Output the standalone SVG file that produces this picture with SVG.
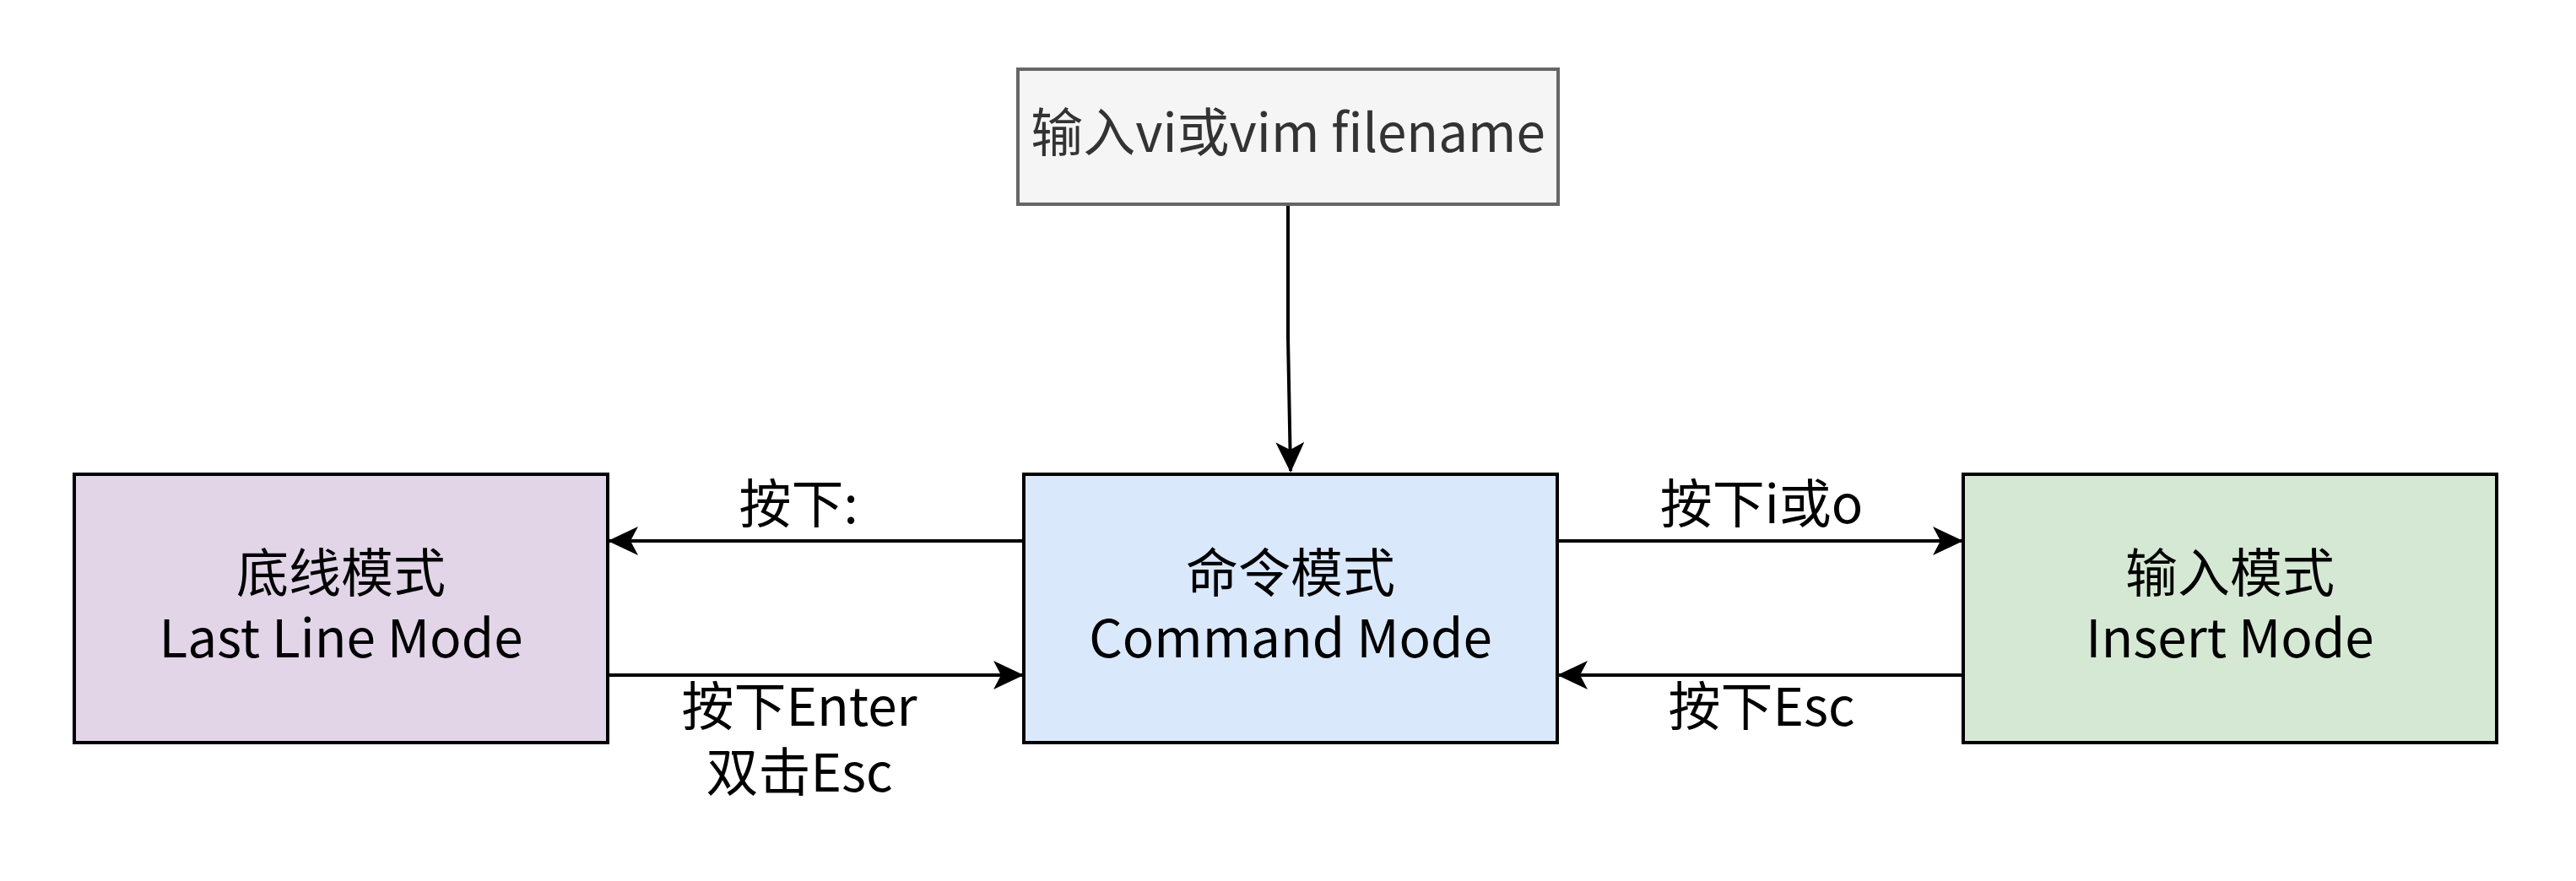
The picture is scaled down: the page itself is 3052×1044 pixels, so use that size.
<svg xmlns="http://www.w3.org/2000/svg" width="3052" height="1044" viewBox="0 0 3052 1044">
<style>
text{font-family:"Noto Sans CJK SC","Noto Sans",sans-serif;font-size:62px;text-anchor:middle;fill:#000}
.box{stroke:#000;stroke-width:4}
.edge{fill:none;stroke:#000;stroke-width:4}
</style>
<defs>
<marker id="arr" markerUnits="userSpaceOnUse" viewBox="0 0 36 34" markerWidth="36" markerHeight="34" refX="34" refY="17" orient="auto">
<path d="M0,0 L36,17 L0,34 L9,17 Z" fill="#000"/>
</marker>
</defs>
<rect width="3052" height="1044" fill="#fff"/>
<g id="connectors">
<path class="edge" d="M1526,242 L1526,400 L1529,558" marker-end="url(#arr)"/>
<path class="edge" d="M1213,641 L722,641" marker-end="url(#arr)"/>
<path class="edge" d="M720,800 L1211,800" marker-end="url(#arr)"/>
<path class="edge" d="M1845,641 L2324,641" marker-end="url(#arr)"/>
<path class="edge" d="M2326,800 L1847,800" marker-end="url(#arr)"/>
<text x="946" y="620">按下:</text>
<text x="947" y="860">按下Enter</text>
<text x="947" y="938">双击Esc</text>
<text x="2087" y="620">按下i或o</text>
<text x="2087" y="860">按下Esc</text>
</g>
<g id="start">
<rect x="1206" y="82" width="640" height="160" fill="#f5f5f5" stroke="#666666" stroke-width="4"/>
<text x="1526" y="180" style="fill:#333333">输入vi或vim filename</text>
</g>
<g id="lastline">
<rect class="box" x="88" y="562" width="632" height="318" fill="#e1d5e7"/>
<text x="404" y="702">底线模式</text>
<text x="404" y="779">Last Line Mode</text>
</g>
<g id="command">
<rect class="box" x="1213" y="562" width="632" height="318" fill="#dae8fc"/>
<text x="1529" y="702">命令模式</text>
<text x="1529" y="779">Command Mode</text>
</g>
<g id="insert">
<rect class="box" x="2326" y="562" width="632" height="318" fill="#d5e8d4"/>
<text x="2642" y="702">输入模式</text>
<text x="2642" y="779">Insert Mode</text>
</g>
</svg>
